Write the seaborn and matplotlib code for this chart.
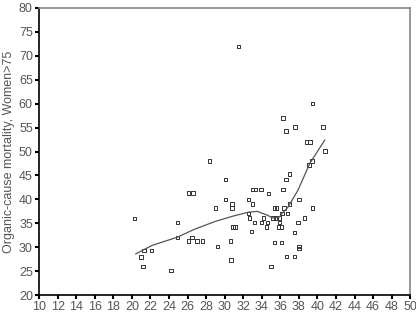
import numpy as np
import pandas as pd
import matplotlib
matplotlib.use("Agg")
import matplotlib.pyplot as plt
import seaborn as sns

# points
x_vals = [20.3, 21.0, 21.2, 21.3, 22.1, 24.2, 24.9, 24.9, 26.1, 26.6,
          26.1, 26.5, 27.0, 27.6, 28.4, 29.0, 29.2, 30.1, 30.1, 30.8,
          30.8, 30.6, 30.7, 30.9, 31.1, 31.5, 32.6, 33.0, 32.6, 32.7,
          33.2, 32.9, 33.0, 33.3, 33.9, 34.7, 34.0, 34.6, 34.5, 34.2,
          35.2, 35.5, 35.9, 35.9, 35.8, 36.1, 35.4, 35.6, 36.4, 36.2,
          36.8, 37.0, 36.3, 36.6, 37.0, 36.3, 36.6, 37.6, 39.5, 40.6,
          38.8, 39.2, 40.8, 39.4, 39.1, 38.0, 39.5, 38.6, 37.9, 37.5,
          35.4, 36.1, 38.0, 38.0, 36.7, 37.5, 35.0]
y_vals = [36.0, 28.0, 26.0, 29.3, 29.3, 25.2, 35.2, 32.0, 41.3, 41.3,
          31.3, 32.0, 31.3, 31.3, 48.0, 38.2, 30.2, 44.2, 40.0, 39.0,
          38.2, 31.3, 27.3, 34.2, 34.2, 72.0, 40.0, 39.0, 37.1, 36.1,
          35.2, 33.3, 42.1, 42.1, 42.1, 41.2, 35.2, 35.2, 34.2, 36.1,
          36.1, 36.1, 36.1, 35.2, 34.2, 34.2, 38.2, 38.2, 38.2, 37.1,
          37.1, 39.0, 42.1, 44.2, 45.3, 57.0, 54.3, 55.1, 60.0, 55.1,
          52.0, 52.0, 50.1, 48.0, 47.2, 40.0, 38.2, 36.1, 35.2, 33.1,
          31.0, 31.0, 30.2, 29.8, 28.1, 28.1, 26.0]

# smoothed fit line
fit_x = [20.4, 22.2, 24.9, 26.8, 29.0, 30.9, 32.5, 33.5, 34.6, 35.2,
         35.9, 36.2, 36.8, 37.9, 39.2, 40.8]
fit_y = [28.6, 30.4, 32.1, 33.8, 35.4, 36.5, 37.3, 37.5, 36.7, 36.1,
         36.3, 37.1, 38.3, 41.9, 47.6, 52.4]

x_ticks = list(range(10, 51, 2))
y_ticks = list(range(20, 81, 5))
y_label = "Organic-cause mortality, Women>75"

sns.set_style("white")
plt.rcParams['font.family'] = ['Liberation Sans', 'DejaVu Sans']

pts = pd.DataFrame({'x': x_vals, 'y': y_vals})
fit = pd.DataFrame({'x': fit_x, 'y': fit_y})

fig = plt.figure(figsize=(4.16, 3.18), dpi=100)
ax = fig.add_axes([0.094, 0.072, 0.892, 0.903])

sns.lineplot(data=fit, x='x', y='y', sort=False, color='#555555',
             linewidth=0.9, ax=ax)
sns.scatterplot(data=pts, x='x', y='y', marker='s', s=6,
                facecolor='none', edgecolor='#333333', linewidth=0.7, ax=ax)

ax.set_xlim(10, 50)
ax.set_ylim(20, 80)
ax.set_xticks(x_ticks)
ax.set_yticks(y_ticks)
ax.set_xlabel('')
ax.set_ylabel(y_label, fontsize=9, color='#555555', labelpad=3)
ax.tick_params(axis='both', direction='out', length=3, width=1.5,
               color='black', labelsize=9, labelcolor='#555555', pad=1.5)
ax.tick_params(left=True, bottom=True)

for side in ['left', 'bottom']:
    ax.spines[side].set_color('black')
    ax.spines[side].set_linewidth(1.2)
for side in ['top', 'right']:
    ax.spines[side].set_color('#888888')
    ax.spines[side].set_linewidth(1.2)

fig.savefig('out.png', dpi=100)
